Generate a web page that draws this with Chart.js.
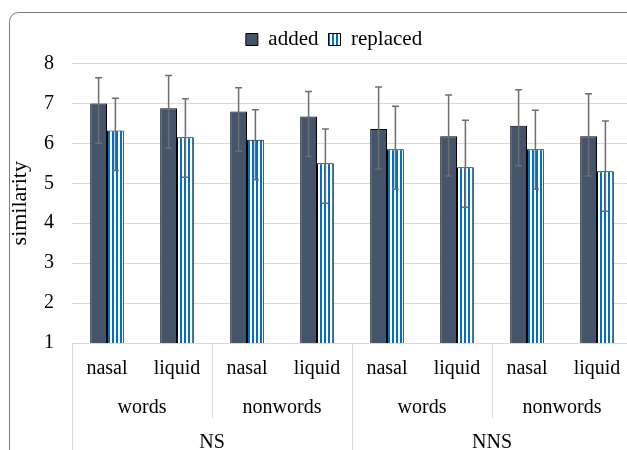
<!DOCTYPE html>
<html>
<head>
<meta charset="utf-8">
<script src="https://cdn.jsdelivr.net/npm/chart.js@4"></script>
<style>
  html, body { margin: 0; padding: 0; background: #fff; overflow: hidden; width: 627px; height: 450px; }
  #wrap { position: relative; width: 627px; height: 450px; overflow: hidden; }
  #c { position: absolute; left: 0; top: 0; }
</style>
</head>
<body>
<div id="wrap">
  <canvas id="c" width="640" height="450"></canvas>
</div>
<script>
// Sound class of the target segment (innermost category level)
const soundClasses = ['nasal', 'liquid', 'nasal', 'liquid', 'nasal', 'liquid', 'nasal', 'liquid'];
// Lexical status (middle level), each spanning two sound classes
const lexicalGroups = ['words', 'nonwords', 'words', 'nonwords'];
// Listener group (outer level), each spanning four sound classes
const listenerGroups = ['NS', 'NNS'];

// Mean similarity ratings
const added    = [7.00, 6.88, 6.80, 6.67, 6.36, 6.18, 6.44, 6.18];
const replaced = [6.32, 6.15, 6.09, 5.50, 5.85, 5.40, 5.85, 5.30];

// Error bar extents above and below each mean
const addedErrPlus     = [0.64, 0.82, 0.59, 0.63, 1.05, 1.03, 0.90, 1.06];
const addedErrMinus    = [1.00, 1.00, 1.00, 1.00, 1.00, 1.00, 1.00, 1.00];
const replacedErrPlus  = [0.81, 0.97, 0.75, 0.86, 1.08, 1.18, 0.98, 1.26];
const replacedErrMinus = [1.00, 1.00, 1.00, 1.00, 1.00, 1.00, 1.00, 1.00];

// Y axis range
const yMin = 1;
const yMax = 8;

const FONT = '"Liberation Serif", "Times New Roman", serif';
Chart.defaults.font.family = FONT;
Chart.defaults.color = '#000';

const canvas = document.getElementById('c');
const ctx = canvas.getContext('2d');

// Vertical blue/white stripe fill
function stripePattern() {
  const p = document.createElement('canvas');
  p.width = 4; p.height = 4;
  const pc = p.getContext('2d');
  pc.fillStyle = '#ffffff'; pc.fillRect(0, 0, 4, 4);
  pc.fillStyle = '#0070c0'; pc.fillRect(0, 0, 2, 4);
  return ctx.createPattern(p, 'repeat');
}

const errorSets = [
  { plus: addedErrPlus, minus: addedErrMinus },
  { plus: replacedErrPlus, minus: replacedErrMinus }
];

// Outline of the figure panel: left side, rounded top-left corner, top side
const frame = {
  id: 'frame',
  beforeDraw(chart) {
    const c = chart.ctx;
    const x0 = 9.5, y0 = 12.5, r = 9;
    c.save();
    c.strokeStyle = '#7a7a7a';
    c.lineWidth = 1;
    c.beginPath();
    c.moveTo(x0, chart.height);
    c.lineTo(x0, y0 + r);
    c.arcTo(x0, y0, x0 + r, y0, r);
    c.lineTo(627, y0);
    c.stroke();
    c.restore();
  }
};

// Moves the legend row after layout
const legendShift = {
  id: 'legendShift',
  afterLayout(chart) {
    const lg = chart.legend;
    if (lg) {
      lg.left += 18; lg.right += 18;
      lg.top -= 3.5; lg.bottom -= 3.5;
    }
  }
};

// Draws the asymmetric error bars on top of the bars
const errorBars = {
  id: 'errorBars',
  afterDatasetsDraw(chart) {
    const y = chart.scales.y;
    const c = chart.ctx;
    c.save();
    c.strokeStyle = '#6e6e6e';
    c.lineWidth = 1.5;
    chart.data.datasets.forEach((ds, d) => {
      const meta = chart.getDatasetMeta(d);
      const err = errorSets[d];
      meta.data.forEach((bar, i) => {
        const v = ds.data[i];
        const top = y.getPixelForValue(v + err.plus[i]);
        const bot = y.getPixelForValue(v - err.minus[i]);
        const x = bar.x;
        c.beginPath();
        c.moveTo(x, top); c.lineTo(x, bot);
        c.moveTo(x - 3.5, top); c.lineTo(x + 3.5, top);
        c.moveTo(x - 3.5, bot); c.lineTo(x + 3.5, bot);
        c.stroke();
      });
    });
    c.restore();
  }
};

// Outer category levels and their divider lines beneath the axis
const multiLevelAxis = {
  id: 'multiLevelAxis',
  afterDraw(chart) {
    const xs = chart.scales.x;
    const c = chart.ctx;
    const n = soundClasses.length;
    const edge = (k) => {
      if (k <= 0) return chart.chartArea.left;
      if (k >= n) return chart.chartArea.right;
      return (xs.getPixelForValue(k - 1) + xs.getPixelForValue(k)) / 2;
    };
    const top = xs.top;
    c.save();
    c.strokeStyle = '#d9d9d9';
    c.lineWidth = 1;
    const perLex = n / lexicalGroups.length;
    for (let g = 0; g <= lexicalGroups.length; g++) {
      const x = Math.round(edge(g * perLex)) + 0.5;
      c.beginPath(); c.moveTo(x, top); c.lineTo(x, top + 75); c.stroke();
    }
    const perListener = n / listenerGroups.length;
    for (let g = 0; g <= listenerGroups.length; g++) {
      const x = Math.round(edge(g * perListener)) + 0.5;
      c.beginPath(); c.moveTo(x, top); c.lineTo(x, chart.height); c.stroke();
    }
    c.fillStyle = '#000';
    c.font = '20px ' + FONT;
    c.textAlign = 'center';
    c.textBaseline = 'alphabetic';
    lexicalGroups.forEach((t, g) => {
      const cx = (edge(g * perLex) + edge((g + 1) * perLex)) / 2;
      c.fillText(t, cx, top + 70);
    });
    listenerGroups.forEach((t, g) => {
      const cx = (edge(g * perListener) + edge((g + 1) * perListener)) / 2;
      c.fillText(t, cx, top + 105);
    });
    c.restore();
  }
};

new Chart(ctx, {
  type: 'bar',
  data: {
    labels: soundClasses,
    datasets: [
      {
        label: 'added',
        data: added,
        backgroundColor: '#44546a',
        borderColor: '#000000',
        borderWidth: 1,
        categoryPercentage: 0.48,
        barPercentage: 1.0
      },
      {
        label: 'replaced',
        data: replaced,
        backgroundColor: stripePattern(),
        borderColor: '#000000',
        borderWidth: 1,
        categoryPercentage: 0.48,
        barPercentage: 1.0
      }
    ]
  },
  options: {
    responsive: false,
    animation: false,
    devicePixelRatio: 1,
    layout: { padding: { top: 22.5, right: 8, bottom: 0, left: 0 } },
    plugins: {
      legend: {
        position: 'top',
        labels: {
          font: { family: FONT, size: 21 },
          color: '#000',
          boxWidth: 12,
          boxHeight: 12,
          padding: 10
        }
      },
      tooltip: { enabled: false }
    },
    scales: {
      x: {
        type: 'category',
        grid: { display: false, drawTicks: false },
        border: { display: true, color: '#d9d9d9', width: 1 },
        ticks: {
          font: { family: FONT, size: 20 },
          color: '#000',
          padding: 14,
          autoSkip: false,
          maxRotation: 0
        },
        afterFit(scale) { scale.height = 107; }
      },
      y: {
        min: yMin,
        max: yMax,
        grid: { color: '#d9d9d9', drawTicks: false },
        border: { display: false },
        ticks: {
          stepSize: 1,
          font: { family: FONT, size: 20 },
          color: '#000',
          padding: 18
        },
        title: {
          display: true,
          text: 'similarity',
          font: { family: FONT, size: 22 },
          color: '#000',
          padding: { top: 7, bottom: 0 }
        },
        afterFit(scale) { scale.width = 72; }
      }
    }
  },
  plugins: [frame, legendShift, errorBars, multiLevelAxis]
});
</script>
</body>
</html>
